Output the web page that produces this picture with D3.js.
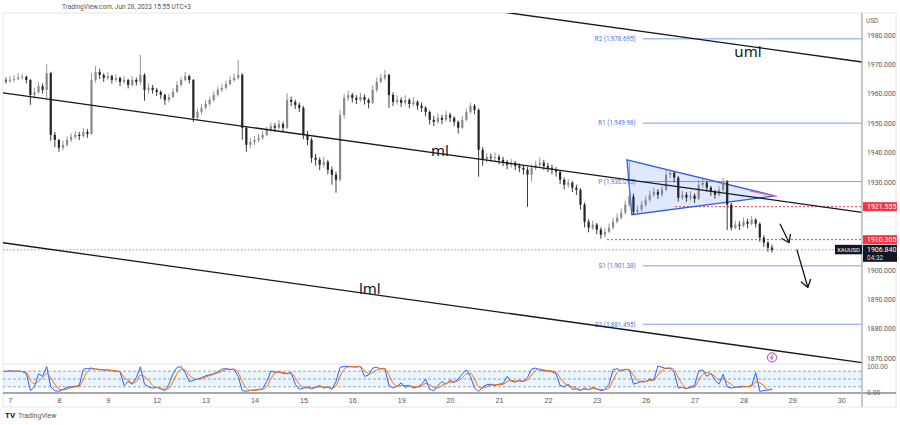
<!DOCTYPE html>
<html><head><meta charset="utf-8">
<script src="https://cdn.jsdelivr.net/npm/d3@7"></script>
<style>body{margin:0;background:#fff}svg{display:block;font-family:Roboto,"Noto Sans",sans-serif}</style>
</head><body><svg id="c" width="900" height="425"></svg>
<script>
// ---------- data ----------
const dayLabels = ["7","8","9","12","13","14","15","16","19","20","21","22","23","26","27","28","29","30"];
const barsPerDay = 12;       // 2-hour candles
const firstDayIndex = 2;     // index of first bar of day "7"
const firstOpen = 1965;
// [close, high, low]
const candles = [
[1964.5,1966,1963.5],[1964.3,1965.5,1963.5],[1964.7,1966,1963.8],[1965,1966.3,1964],[1965.5,1967,1964.5],[1965.8,1966.8,1964.8],[1964.7,1966.2,1963.5],[1959.6,1965,1956.2],[1960.5,1962,1958.5],[1962.6,1964,1960],
[1961.3,1963.5,1960],[1967,1970,1958.5],[1946,1967.5,1944],[1944.3,1947,1941.8],[1941.6,1944.5,1940.2],[1942.6,1944,1940.8],[1944.3,1945.5,1942],[1945.3,1946.5,1943.5],[1946,1947.3,1944.5],[1945.6,1947,1944.2],
[1947,1948.3,1945],[1946.3,1948,1945],[1964.7,1967,1946],[1967.4,1969.4,1963.8],[1966.4,1968.5,1965],[1965.4,1967,1964],[1966,1967.3,1964.6],[1964.7,1966.5,1963.5],[1965.4,1966.6,1964],[1964,1965.8,1962.6],
[1964.7,1966,1963.4],[1963,1965,1961.8],[1964.7,1966,1962.5],[1964,1965.5,1962.8],[1966.4,1973.2,1963],[1961.3,1967,1957.6],[1962,1963.5,1960],[1961.3,1963,1960],[1960.6,1962,1959.2],[1959.6,1961.2,1958.3],
[1957.9,1960,1956.2],[1958.9,1960,1957],[1960.6,1961.8,1958.5],[1963,1964.3,1960.3],[1964.7,1965.8,1962.5],[1966,1967.4,1964.2],[1964.7,1966.5,1963.5],[1951.8,1965,1950.4],[1953.8,1955,1951],[1955.2,1956.5,1953],
[1956.5,1957.8,1954.6],[1957.9,1959,1955.8],[1959.6,1960.8,1957.3],[1961.3,1962.5,1959],[1962,1963.4,1960.5],[1963.3,1964.5,1961.5],[1964.7,1966,1962.8],[1965.4,1966.8,1964],[1966.4,1971.5,1964.8],[1948.4,1967,1944.3],
[1942.6,1949,1940.2],[1943.6,1945,1941.5],[1944.3,1945.6,1942.5],[1945,1946.3,1943.5],[1946,1947.3,1944.3],[1947.7,1948.8,1945.5],[1949,1950.2,1947],[1948.4,1950,1947],[1949.7,1951,1947.8],[1948.4,1950.5,1947.2],
[1957.9,1960.2,1948],[1957.2,1959,1955.8],[1956.2,1958,1954.8],[1955.2,1957,1953.8],[1946,1955.8,1944.5],[1944.3,1947.3,1942.5],[1938.2,1945,1936.5],[1937.5,1939.5,1935.5],[1935.8,1938.3,1934],[1936.8,1938.5,1934.8],
[1934.1,1937.5,1932.5],[1932.4,1935.2,1929],[1930.7,1933.5,1926.3],[1952.8,1954.5,1930],[1958.6,1960,1951.5],[1959.6,1961,1957.5],[1958.6,1960.3,1957],[1957.9,1959.5,1956.5],[1958.9,1960.3,1957.2],[1957.9,1959.8,1956.3],
[1956.9,1958.5,1955],[1961.3,1962.8,1956.5],[1964,1965.5,1960.5],[1965.4,1966.8,1963.5],[1966.4,1968.1,1964.5],[1959.6,1966.8,1955.2],[1957.2,1960.5,1955.8],[1957.9,1959.5,1956.3],[1956.9,1958.8,1955.5],[1957.9,1959.5,1956],
[1956.5,1958.5,1955],[1957.2,1958.8,1955.8],[1955.9,1957.8,1954.5],[1955.2,1957,1953.8],[1953.8,1955.8,1952.3],[1951.1,1954.3,1949.5],[1950.4,1952.5,1949],[1951.8,1953.2,1949.8],[1951.1,1952.8,1949.6],[1952.8,1954.2,1950.5],
[1951.8,1953.5,1950.3],[1950.4,1952.3,1949],[1948.4,1950.8,1946.4],[1951.1,1952.5,1948],[1953.8,1955,1950.6],[1955.9,1957,1953.2],[1954.5,1956.5,1953],[1940.9,1955,1931.7],[1937.5,1941.8,1935.5],[1938.5,1939.8,1936.5],
[1938.2,1939.6,1936.8],[1938.5,1940,1937],[1937.5,1939.3,1936],[1936.8,1938.5,1935.3],[1935.8,1937.5,1934.3],[1936.5,1937.8,1934.8],[1935.4,1937,1934],[1934.8,1936.3,1933.3],[1934.1,1935.6,1932.4],[1932.4,1935,1921.5],
[1934.8,1936,1930],[1935.8,1937.2,1934],[1936.5,1938.3,1935],[1935.4,1937.5,1934],[1934.8,1936.4,1933.3],[1934.1,1935.8,1932.6],[1933.4,1935,1931.8],[1930.7,1934,1929.2],[1929,1931.5,1927.4],[1929.7,1931,1928],
[1928,1930.3,1926.5],[1927.3,1929,1925.5],[1922.2,1927.8,1920.5],[1916.4,1923,1914.5],[1914.4,1917.3,1912.8],[1915.4,1916.8,1913.5],[1913.7,1916,1912.2],[1912,1914.5,1910.6],[1913,1914.2,1911.2],[1914.4,1915.8,1912.5],
[1916.4,1917.8,1913.8],[1917.8,1919.2,1915.8],[1919.5,1921,1917.2],[1922.2,1923.6,1918.8],[1925,1936.8,1921.5],[1919.8,1926,1918.8],[1920.5,1922,1918.9],[1922.2,1923.5,1919.8],[1923.9,1925.2,1921.5],[1925.6,1927,1923.2],
[1926.6,1928,1924.8],[1925.6,1927.5,1924.2],[1927.3,1928.6,1924.8],[1932.4,1934.1,1926.8],[1933.1,1934.1,1931.3],[1931.4,1933.5,1929.8],[1924.6,1932,1923.3],[1925.6,1927,1923.8],[1924.6,1926.5,1923.2],[1925.3,1926.8,1923.6],
[1924.2,1926,1922.8],[1929,1930.7,1923.8],[1929.7,1931,1928],[1928,1930.3,1926.6],[1926.6,1928.6,1925.2],[1925.6,1927.3,1924.2],[1927.3,1928.6,1925],[1930,1931.4,1926.3],[1922.2,1930.6,1913.6],[1914.4,1922.8,1913.4],
[1915.4,1916.8,1913.8],[1915,1916.6,1913.6],[1916.4,1917.8,1914.5],[1915.7,1917.4,1914.2],[1917.1,1918.4,1915.2],[1915.7,1917.6,1914.4],[1911,1916.2,1909.6],[1909.3,1911.8,1907.8],[1907.6,1909.8,1906.2],[1906.84,1908.6,1905.9]
];
const stochK = [78,80,82,79,81,78,72,5,20,70,60,98,20,5,3,10,18,20,22,25,88,90,92,88,86,84,85,82,80,78,25,40,30,55,97,30,20,15,18,12,5,30,70,95,97,75,40,45,50,55,62,66,70,78,88,90,86,88,60,5,3,6,8,10,12,40,80,76,78,72,70,75,30,10,15,20,12,18,25,15,20,10,40,95,98,99,97,96,99,60,65,92,95,88,90,25,15,22,35,18,25,15,20,28,50,10,5,25,40,30,45,38,50,70,85,60,15,2,20,28,30,25,30,32,60,42,38,45,40,55,88,92,85,82,80,78,70,25,20,30,10,12,5,15,8,18,12,5,10,30,85,90,80,88,85,30,35,42,40,50,45,100,95,90,92,75,15,18,12,20,25,80,85,60,72,45,30,68,20,15,18,20,22,20,25,75,3,5,8,12];
const stochD = [78,79,80,80,80,79,76,45,32,40,55,70,55,30,12,8,12,17,20,22,50,80,88,89,87,85,84,83,81,78,55,45,35,40,65,60,45,25,18,15,10,15,40,70,88,85,65,52,48,52,58,63,68,74,80,86,88,87,75,40,15,6,6,8,10,20,50,72,77,75,72,72,55,30,18,15,16,17,20,19,18,15,25,60,88,96,97,97,97,82,70,75,85,90,90,65,35,22,25,25,25,20,20,22,33,28,18,15,25,32,38,38,44,55,70,72,50,20,15,20,26,28,28,30,40,45,42,42,42,47,65,82,88,85,82,80,76,55,35,25,20,15,10,10,10,13,12,10,9,15,45,75,85,86,85,65,45,38,40,44,46,65,82,92,92,86,55,30,15,16,20,45,68,75,70,60,48,50,40,30,18,18,20,21,22,40,35,25,8,8];
const priceTicks = [1980,1970,1960,1950,1940,1930,1900,1890,1880,1870];
const stochTicks = [100,0];
const stochBands = [80,50,20];
const pivots = [
  {label:"R2 (1,978.695)", value:1978.695},
  {label:"R1 (1,949.98)",  value:1949.98},
  {label:"P (1,930.095)",  value:1930.095},
  {label:"S1 (1,901.38)",  value:1901.38},
  {label:"S2 (1,881.495)", value:1881.495}
];
const pivotStart = 157.3;
const redLevels = [
  {value:1921.535, label:"1921.535", start:165.2},
  {value:1910.305, label:"1910.305", start:148.5}
];
const lastPrice = 1906.84, lastLabel = "1906.840", countdown = "04:32", symbol = "XAUUSD";
const channelLines = [
  {name:"uml", p0:[120, 1988.4], p1:[211.1, 1970.8], label:[183.1, 1972.4]},
  {name:"ml",  p0:[0.28, 1960.3], p1:[211.1, 1919.6], label:[107.5, 1938.8]},
  {name:"lml", p0:[0.28, 1909.25], p1:[211.1, 1868.4], label:[90.3, 1891.9]}
];
const triangle = [[153.4,1937.5],[154.6,1918.8],[189.7,1925.2]];
const triangleTip = [[183.6,1926.9],[190.2,1925.0]];
const arrows = [
  [[190.96,1915.7],[193.2,1909.25]],
  [[195.1,1906.9],[197.8,1894.0]]
];
const alertIcon = [189.0, 1870.2];

// ---------- scales ----------
const svg = d3.select("#c");
const L = 3, R = 862, T = 13, PB = 364, SB = 393;
const x = d3.scaleLinear().domain([0, 189]).range([1.85, 772]);
const y = d3.scaleLinear().domain([1870, 1980]).range([358, 35]);
const ys = d3.scaleLinear().domain([0, 100]).range([392, 366]);

const defs = svg.append("defs");
defs.append("clipPath").attr("id","cp").append("rect").attr("x",L).attr("y",T).attr("width",R-L).attr("height",PB-T);
defs.append("clipPath").attr("id","cs").append("rect").attr("x",L).attr("y",PB).attr("width",R-L).attr("height",SB-PB);

// header
svg.append("text").attr("x",62).attr("y",8.5).attr("font-size",6.5).attr("fill","#555")
  .text("TradingView.com, Jun 28, 2023 15:55 UTC+3");
// frame
svg.append("rect").attr("x",L).attr("y",T).attr("width",896-L).attr("height",407-T)
  .attr("fill","none").attr("stroke","#e3e5ea").attr("stroke-width",1);

const P = svg.append("g").attr("clip-path","url(#cp)");

// current price dotted line
P.append("line").attr("x1",L).attr("x2",R).attr("y1",y(lastPrice)).attr("y2",y(lastPrice))
  .attr("stroke","#9a9a9a").attr("stroke-dasharray","1.5,2").attr("stroke-width",1);

// pivots
pivots.forEach(p=>{
  P.append("line").attr("x1",x(pivotStart)).attr("x2",R).attr("y1",y(p.value)).attr("y2",y(p.value))
    .attr("stroke","#7f9ef0").attr("stroke-width",1);
  P.append("text").attr("x",x(pivotStart)-7).attr("y",y(p.value)+2.3).attr("text-anchor","end")
    .attr("font-size",6.3).attr("fill","#4f74e3").text(p.label);
});

// red dotted levels
redLevels.forEach(l=>{
  P.append("line").attr("x1",x(l.start)).attr("x2",R).attr("y1",y(l.value)).attr("y2",y(l.value))
    .attr("stroke","#f23645").attr("stroke-dasharray","2,2").attr("stroke-width",1);
});

// triangle
P.append("path").attr("d", d3.line().x(d=>x(d[0])).y(d=>y(d[1]))(triangle)+"Z")
  .attr("fill","rgba(41,98,255,0.15)").attr("stroke","#2f5cf0").attr("stroke-width",1.3);
P.append("path").attr("d", d3.line().x(d=>x(d[0])).y(d=>y(d[1]))(triangleTip))
  .attr("stroke","#e86a8a").attr("stroke-width",1.3).attr("fill","none");

// candles
const opens = candles.map((c,i)=> i===0 ? firstOpen : candles[i-1][0]);
const bw = 2.2;
const cg = P.append("g");
candles.forEach((c,i)=>{
  const o = opens[i], cl = c[0], up = cl >= o;
  const col = up ? "#8a8a8a" : "#262626";
  cg.append("line").attr("x1",x(i)).attr("x2",x(i)).attr("y1",y(c[1])).attr("y2",y(c[2]))
    .attr("stroke",col).attr("stroke-width",0.9);
  const top = y(Math.max(o,cl)), bot = y(Math.min(o,cl));
  cg.append("rect").attr("x",x(i)-bw/2).attr("y",top).attr("width",bw).attr("height",Math.max(0.8,bot-top))
    .attr("fill",col);
});

// channel lines + labels
channelLines.forEach(cl=>{
  P.append("line").attr("x1",x(cl.p0[0])).attr("y1",y(cl.p0[1])).attr("x2",x(cl.p1[0])).attr("y2",y(cl.p1[1]))
    .attr("stroke","#131722").attr("stroke-width",1.3);
  P.append("text").attr("x",x(cl.label[0])).attr("y",y(cl.label[1])).attr("text-anchor","middle")
    .attr("font-size",15).attr("font-family","'Noto Sans',sans-serif").attr("fill","#131722").text(cl.name);
});

// arrows
arrows.forEach(a=>{
  const x0=x(a[0][0]), y0=y(a[0][1]), x1=x(a[1][0]), y1=y(a[1][1]);
  P.append("line").attr("x1",x0).attr("y1",y0).attr("x2",x1).attr("y2",y1).attr("stroke","#131722").attr("stroke-width",1.3);
  const ang = Math.atan2(y1-y0, x1-x0), hl = 9;
  [0.6,-0.6].forEach(s=>{
    P.append("line").attr("x1",x1).attr("y1",y1)
      .attr("x2",x1 - hl*Math.cos(ang+s)).attr("y2",y1 - hl*Math.sin(ang+s))
      .attr("stroke","#131722").attr("stroke-width",1.3);
  });
});

// alert icon
const ax = x(alertIcon[0]), ay = y(alertIcon[1]);
P.append("circle").attr("cx",ax).attr("cy",ay).attr("r",4.6).attr("fill","#fff").attr("stroke","#b23cc8").attr("stroke-width",1);
P.append("path").attr("d",`M${ax+1.2},${ay-3}L${ax-1.6},${ay+0.4}L${ax+0.9},${ay+0.2}L${ax-1},${ay+3}`)
  .attr("fill","none").attr("stroke","#b23cc8").attr("stroke-width",0.9);

// ---------- stoch panel ----------
const S = svg.append("g").attr("clip-path","url(#cs)");
S.append("rect").attr("x",L).attr("width",R-L).attr("y",ys(80)).attr("height",ys(20)-ys(80)).attr("fill","rgba(33,150,243,0.1)");
stochBands.forEach(v=>{
  S.append("line").attr("x1",L).attr("x2",R).attr("y1",ys(v)).attr("y2",ys(v))
    .attr("stroke","#8a8f99").attr("stroke-dasharray","3,2").attr("stroke-width",0.8);
});
S.append("path").datum(stochK).attr("d",d3.line().x((d,i)=>x(i)).y(d=>ys(d)))
  .attr("fill","none").attr("stroke","#2962ff").attr("stroke-width",1);
S.append("path").datum(stochD).attr("d",d3.line().x((d,i)=>x(i)).y(d=>ys(d)).curve(d3.curveMonotoneX))
  .attr("fill","none").attr("stroke","#ff6d00").attr("stroke-width",1);
// panel separators
svg.append("line").attr("x1",L).attr("x2",R).attr("y1",PB).attr("y2",PB).attr("stroke","#e0e3eb");
svg.append("line").attr("x1",L).attr("x2",896).attr("y1",SB).attr("y2",SB).attr("stroke","#50535e").attr("stroke-width",1);
svg.append("line").attr("x1",R).attr("x2",R).attr("y1",T).attr("y2",407).attr("stroke","#b2b5be").attr("stroke-width",1.5);

// ---------- axes ----------
const ay1 = svg.append("g").attr("transform",`translate(${R},0)`)
  .call(d3.axisRight(y).tickValues(priceTicks).tickFormat(d3.format(".3f")).tickSize(0).tickPadding(5));
ay1.select(".domain").remove();
ay1.selectAll("text").attr("font-size",6.8).attr("fill","#555").attr("font-family","Roboto,sans-serif");
const ay2 = svg.append("g").attr("transform",`translate(${R},0)`)
  .call(d3.axisRight(ys).tickValues(stochTicks).tickFormat(d3.format(".2f")).tickSize(0).tickPadding(5));
ay2.select(".domain").remove();
ay2.selectAll("text").attr("font-size",6.8).attr("fill","#555");
svg.append("text").attr("x",866).attr("y",23).attr("font-size",6.5).attr("fill","#666").text("USD");

const dayIdx = dayLabels.map((d,k)=> firstDayIndex + k*barsPerDay);
const axb = svg.append("g").attr("transform",`translate(0,${SB})`)
  .call(d3.axisBottom(x).tickValues(dayIdx).tickFormat((d,i)=>dayLabels[i]).tickSize(0).tickPadding(5));
axb.select(".domain").remove();
axb.selectAll("text").attr("font-size",7.2).attr("fill","#555");

// right-side price labels
function tag(val, txt, bg, h, extra){
  const g = svg.append("g");
  const cy = y(val);
  g.append("rect").attr("x",R+1).attr("y",cy-(extra?5:4.5)).attr("width",34).attr("height",h).attr("fill",bg);
  g.append("text").attr("x",R+5).attr("y",cy+2.4).attr("font-size",7).attr("fill","#fff").text(txt);
  if(extra) g.append("text").attr("x",R+5).attr("y",cy+10.5).attr("font-size",6.5).attr("fill","#ddd").text(extra);
}
redLevels.forEach(l=>tag(l.value, l.label, "#f23645", 9));
tag(lastPrice, lastLabel, "#131722", 17, countdown);
// symbol tag
svg.append("rect").attr("x",R-27).attr("y",y(lastPrice)-5).attr("width",27).attr("height",9.5).attr("fill","#131722");
svg.append("text").attr("x",R-13.5).attr("y",y(lastPrice)+2.2).attr("text-anchor","middle").attr("font-size",6).attr("fill","#fff").text(symbol);

// footer logo
svg.append("text").attr("x",5).attr("y",418).attr("font-size",8).attr("font-weight","bold").attr("fill","#131722").text("TV");
svg.append("text").attr("x",18).attr("y",418).attr("font-size",7).attr("fill","#555").text("TradingView");
</script></body></html>
